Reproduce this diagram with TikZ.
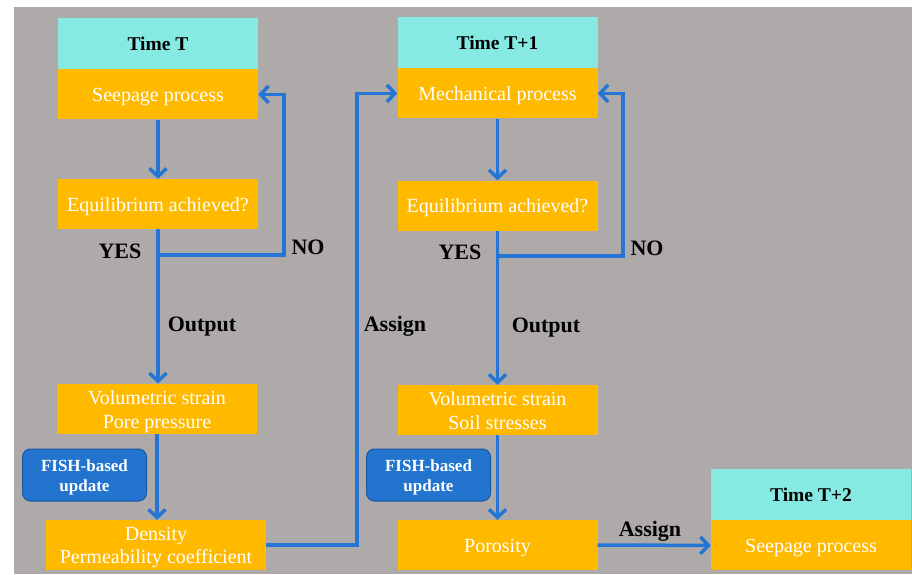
\documentclass[tikz,border=0pt]{standalone}
\usepackage{fontspec}
\setmainfont{LiberationSerif-Regular.ttf}[BoldFont=LiberationSerif-Bold.ttf]
\usepackage{tikz}
\usetikzlibrary{arrows.meta, positioning}

\definecolor{bggray}{RGB}{174,170,169}
\definecolor{timecyan}{RGB}{134,234,227}
\definecolor{procorange}{RGB}{255,186,0}
\definecolor{flowblue}{RGB}{36,117,212}
\definecolor{fishfill}{RGB}{34,116,206}
\definecolor{fishedge}{RGB}{22,86,168}

\begin{document}
\begin{tikzpicture}[
        x=1pt, y=-1pt,
        % boxes of the flow chart
        timebox/.style={fill=timecyan, minimum width=200pt, minimum height=51pt,
            inner sep=0pt, font=\fontsize{19.5}{23}\selectfont\bfseries},
        procbox/.style={fill=procorange, minimum width=200pt, minimum height=50pt,
            inner sep=0pt, align=center, text=white, font=\fontsize{20}{24.3}\selectfont,
            text height=19pt, text depth=5pt},
        twoline/.style={text height=44.2pt},
        fishbox/.style={fill=fishfill, draw=fishedge, line width=1pt, rounded corners=8pt,
            minimum width=124pt, minimum height=52pt, inner sep=0pt, align=center,
            text=white, font=\fontsize{17}{20}\selectfont\bfseries,
            text height=33.4pt, text depth=0pt},
        lbl/.style={font=\fontsize{22}{26}\selectfont\bfseries,
            text height=14.5pt, text depth=0pt},
        flow/.style={draw=flowblue, line width=3.5pt,
            -{Straight Barb[length=8pt, width=17pt]}}
    ]
    \useasboundingbox (0,0) rectangle (912,574);
    \fill[bggray] (14,7) rectangle (912,574);

    % time T
    \node[timebox] (timeT) at (158,43.5) {Time T};
    \node[procbox, below=0pt of timeT] (seepT) {Seepage process};
    \node[procbox] (eqT) at (158,204) {Equilibrium achieved?};
    \node[procbox, twoline] (outT) at (157,408.7) {Volumetric strain\\Pore pressure};
    \node[fishbox] (fishT) at (84.5,475) {FISH-based\\update};
    \node[procbox, minimum width=220pt, font=\fontsize{20}{22.5}\selectfont,
        text height=41.6pt] (densT) at (156,545) {Density\\Permeability coefficient};

    % time T+1
    \node[timebox] (timeT1) at (497.5,42.5) {Time T+1};
    \node[procbox, below=0pt of timeT1] (mechT1) {Mechanical process};
    \node[procbox] (eqT1) at (497.5,205.5) {Equilibrium achieved?};
    \node[procbox, twoline] (outT1) at (497.5,410) {Volumetric strain\\Soil stresses};
    \node[fishbox] (fishT1) at (428.5,475) {FISH-based\\update};
    \node[procbox] (poroT1) at (497.5,545) {Porosity};

    % time T+2
    \node[timebox] (timeT2) at (811,494.5) {Time T+2};
    \node[procbox, below=0pt of timeT2] (seepT2) {Seepage process};

    % corners of the loops
    \coordinate (noT) at (284,255);
    \coordinate (asgT) at (357,545);
    \coordinate (noT1) at (623,256);

    \draw[flow] (seepT) -- (eqT);
    \draw[flow] (eqT.south) |- (noT) |- (seepT.east);
    \draw[flow] (eqT.south) -- (eqT.south |- outT.north);
    \draw[flow] (outT.south) -- (outT.south |- densT.north);
    \draw[flow] (densT.east) -- (asgT) |- (mechT1.west);

    \draw[flow] (mechT1) -- (eqT1);
    \draw[flow] (eqT1.south) |- (noT1) |- (mechT1.east);
    \draw[flow] (eqT1.south) -- (outT1.north);
    \draw[flow] (outT1.south) -- (poroT1.north);
    \draw[flow] (poroT1.east) -- (seepT2.west);

    \node[lbl] (yesT) at (120,251) {YES};
    \node[lbl] (noTl) at (308,247) {NO};
    \node[lbl] (outlT) at (202,324) {Output};
    \node[lbl] (asglT) at (395,324) {Assign};
    \node[lbl] (yesT1) at (460,252) {YES};
    \node[lbl] (noT1l) at (647,248) {NO};
    \node[lbl] (outlT1) at (546,325) {Output};
    \node[lbl] (asglT1) at (650,529) {Assign};
\end{tikzpicture}
\end{document}
